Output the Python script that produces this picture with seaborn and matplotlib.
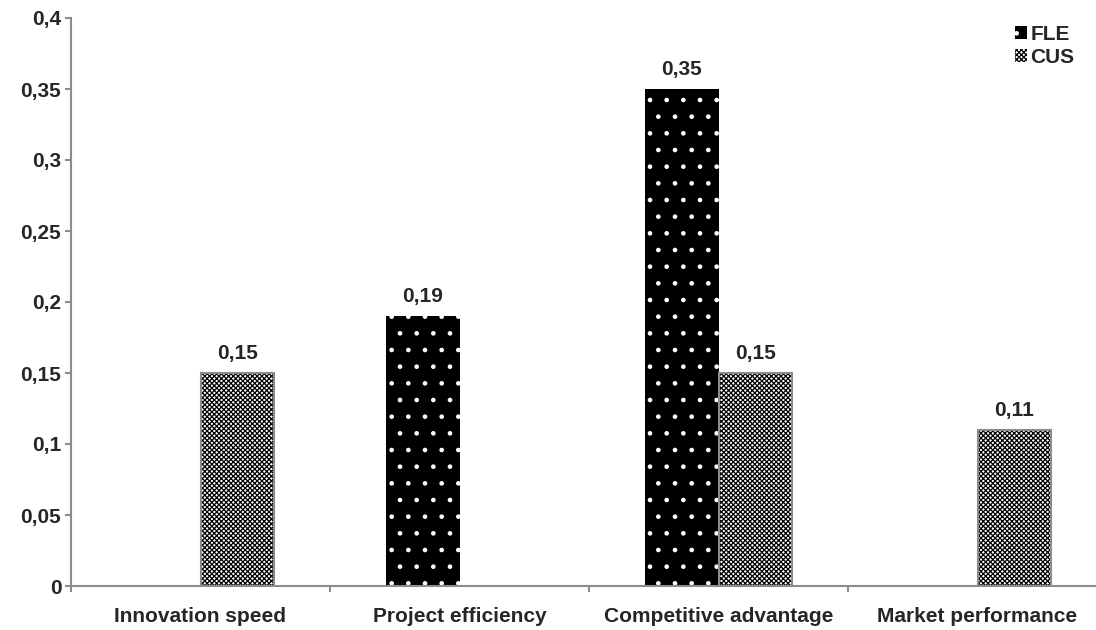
import matplotlib
matplotlib.use("Agg")
import matplotlib.pyplot as plt
from matplotlib.patches import Patch, Rectangle
from matplotlib.ticker import FuncFormatter, FixedLocator
import seaborn as sns
import pandas as pd

# Coefficients per outcome; missing combinations are simply not drawn
categories = ["Innovation speed", "Project efficiency", "Competitive advantage", "Market performance"]
series = ["FLE", "CUS"]
fle_values = [None, 0.19, 0.35, None]
cus_values = [0.15, None, 0.15, 0.11]
y_ticks = [0, 0.05, 0.1, 0.15, 0.2, 0.25, 0.3, 0.35, 0.4]

rows = []
for cat, f, c in zip(categories, fle_values, cus_values):
    if f is not None:
        rows.append({"Outcome": cat, "Variable": "FLE", "Value": f})
    if c is not None:
        rows.append({"Outcome": cat, "Variable": "CUS", "Value": c})
df = pd.DataFrame(rows)

sns.set_theme(style="white")
plt.rcParams["font.family"] = ["Liberation Sans", "DejaVu Sans"]
plt.rcParams["font.weight"] = "bold"
plt.rcParams["hatch.linewidth"] = 0.9

FS = 15
fig = plt.figure(figsize=(10.96, 6.30), dpi=100)
ax = fig.add_axes([71 / 1096, 44 / 630, 1036 / 1096, 568 / 630])

sns.barplot(data=df, x="Outcome", y="Value", hue="Variable",
            order=categories, hue_order=series, width=0.571, gap=0,
            errorbar=None, legend=False, ax=ax)

fle_bars, cus_bars = ax.containers[0], ax.containers[1]
grey = "#8c8c8c"
FLE_HATCH = "."
CUS_HATCH = "xxxxxxx"

for p in fle_bars:
    p.set_facecolor("black")
    p.set_edgecolor("white")
    p.set_hatch(FLE_HATCH)
    p.set_linewidth(0)

for p in cus_bars:
    p.set_facecolor("white")
    p.set_edgecolor("black")
    p.set_hatch(CUS_HATCH)
    p.set_linewidth(0)
    ax.add_patch(Rectangle(p.get_xy(), p.get_width(), p.get_height(),
                           fill=False, edgecolor=grey, linewidth=1.5, zorder=p.get_zorder() + 0.1))


def comma(v, _=None):
    s = f"{v:.2f}".rstrip("0").rstrip(".")
    return s.replace(".", ",")


for cont in (fle_bars, cus_bars):
    ax.bar_label(cont, fmt=lambda v: f"{v:.2f}".replace(".", ","),
                 padding=7, fontsize=FS, fontweight="bold")

ax.set_ylim(0, 0.4)
ax.set_xlim(-0.5, 3.5)
ax.yaxis.set_major_locator(FixedLocator(y_ticks))
ax.yaxis.set_major_formatter(FuncFormatter(comma))

ax.set_xlabel("")
ax.set_ylabel("")
ax.tick_params(axis="y", which="major", left=True, length=4, width=1.5, color=grey,
               labelsize=FS, pad=3)
ax.tick_params(axis="x", which="major", bottom=False, length=0, labelsize=FS, pad=15)
ax.xaxis.set_minor_locator(FixedLocator([-0.5, 0.5, 1.5, 2.5, 3.5]))
ax.tick_params(axis="x", which="minor", bottom=True, length=4, width=1.5, color=grey)
for lbl in ax.get_xticklabels() + ax.get_yticklabels():
    lbl.set_fontweight("bold")

for side in ("top", "right"):
    ax.spines[side].set_visible(False)
for side in ("left", "bottom"):
    ax.spines[side].set_color(grey)
    ax.spines[side].set_linewidth(1.5)

handles = [
    Patch(facecolor="black", edgecolor="white", hatch=FLE_HATCH, linewidth=0, label="FLE"),
    Patch(facecolor="white", edgecolor="black", hatch=CUS_HATCH, linewidth=0, label="CUS"),
]
fig.legend(handles=handles, loc="upper left", bbox_to_anchor=(996 / 1096, 1 - 6 / 630),
           frameon=False, handlelength=0.6, handleheight=0.6, handletextpad=0.15,
           labelspacing=0.2, prop={"size": FS, "weight": "bold"})

fig.savefig("out.png", dpi=100)
